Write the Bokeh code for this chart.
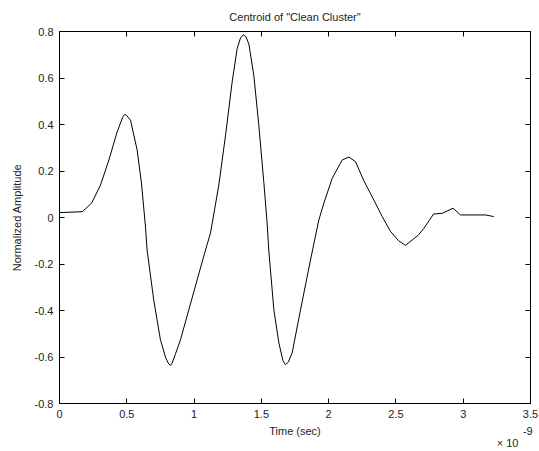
from bokeh.plotting import figure
from bokeh.models import LinearAxis, FixedTicker, Range1d
from bokeh.embed import file_html
from bokeh.resources import INLINE

# time in units of 1e-9 s
time_ns = [0.00, 0.17, 0.24, 0.305, 0.367, 0.428, 0.47, 0.485, 0.50, 0.528, 0.577, 0.609,
           0.639, 0.651, 0.70, 0.75, 0.79, 0.812, 0.825, 0.837, 0.86, 0.899, 0.961, 1.023, 1.085,
           1.122, 1.135, 1.184, 1.234, 1.283, 1.32, 1.345, 1.365, 1.385, 1.407, 1.444, 1.481,
           1.518, 1.543, 1.555, 1.593, 1.63, 1.66, 1.679, 1.70, 1.729, 1.791, 1.865, 1.927,
           1.964, 2.026, 2.1, 2.15, 2.2, 2.26, 2.336, 2.398, 2.46, 2.52,
           2.571, 2.62, 2.668, 2.707, 2.78, 2.844, 2.925, 2.98, 3.165, 3.227]
amplitude = [0.021, 0.025, 0.063, 0.14, 0.247, 0.368, 0.432, 0.444, 0.438, 0.418, 0.29, 0.148,
             -0.04, -0.14, -0.354, -0.526, -0.605, -0.630, -0.636, -0.626, -0.590, -0.526, -0.397, -0.268, -0.14,
             -0.067, -0.024, 0.14, 0.354, 0.583, 0.726, 0.772, 0.786, 0.778, 0.747, 0.611, 0.397,
             0.154, -0.025, -0.14, -0.397, -0.539, -0.615, -0.633, -0.622, -0.582, -0.397, -0.183, -0.011,
             0.061, 0.168, 0.247, 0.26, 0.24, 0.16, 0.075, 0.004, -0.06, -0.10,
             -0.12, -0.097, -0.075, -0.047, 0.015, 0.018, 0.04, 0.011, 0.011, 0.004]

x_ticks = [0, 0.5, 1, 1.5, 2, 2.5, 3, 3.5]
y_ticks = [-0.8, -0.6, -0.4, -0.2, 0, 0.2, 0.4, 0.6, 0.8]
x_tick_labels = {0: "0", 0.5: "0.5", 1: "1", 1.5: "1.5", 2: "2", 2.5: "2.5", 3: "3", 3.5: "3.5"}
y_tick_labels = {-0.8: "-0.8", -0.6: "-0.6", -0.4: "-0.4", -0.2: "-0.2", 0: "0",
                 0.2: "0.2", 0.4: "0.4", 0.6: "0.6", 0.8: "0.8"}
x_title = "Time (sec)"
y_title = "Normalized Amplitude"
exponent_base = "\u00d7 10"
exponent_power = "-9"

FONT = "Liberation Sans"
TXT = "#222222"

p = figure(width=539, height=451, output_backend="svg", toolbar_location=None,
           x_range=Range1d(0, 3.5), y_range=Range1d(-0.8, 0.8),
           min_border_left=59, min_border_right=9, min_border_top=31, min_border_bottom=47,
           title='Centroid of "Clean Cluster"')
p.title.align = "center"
p.title.text_font = FONT
p.title.text_font_size = "11px"
p.title.text_font_style = "normal"
p.title.text_color = TXT
p.title.standoff = 17

p.grid.visible = False
p.outline_line_color = "#000000"
p.background_fill_color = "white"
p.border_fill_color = "white"

p.line(time_ns, amplitude, line_color="#000000", line_width=1)

for ax in (p.xaxis[0], p.yaxis[0]):
    ax.major_tick_in = 5
    ax.major_tick_out = 0
    ax.minor_tick_line_color = None
    ax.axis_line_color = "#000000"
    ax.major_tick_line_color = "#000000"
    ax.major_label_text_font = FONT
    ax.major_label_text_font_size = "11px"
    ax.major_label_text_color = TXT
    ax.axis_label_text_font = FONT
    ax.axis_label_text_font_size = "11px"
    ax.axis_label_text_font_style = "normal"
    ax.axis_label_text_color = TXT

p.xaxis[0].ticker = FixedTicker(ticks=x_ticks)
p.xaxis[0].major_label_overrides = x_tick_labels
p.xaxis[0].major_label_standoff = 6

p.yaxis[0].ticker = FixedTicker(ticks=y_ticks)
p.yaxis[0].major_label_overrides = y_tick_labels
p.yaxis[0].axis_label = y_title
p.yaxis[0].major_label_standoff = 6
p.yaxis[0].axis_label_standoff = 9

# box ticks on the right and top
for loc, ticks in (("right", y_ticks), ("above", x_ticks)):
    ax = LinearAxis(ticker=FixedTicker(ticks=ticks), major_tick_in=5, major_tick_out=0,
                    minor_tick_line_color=None, major_label_text_font_size="0px",
                    major_label_text_color=None, axis_line_color="#000000",
                    major_tick_line_color="#000000", major_label_standoff=0)
    p.add_layout(ax, loc)

# text rows under the x tick labels: x title + exponent power, then exponent base
x_mid = (x_ticks[0] + x_ticks[-1]) / 2
row_b = {x_mid: x_title, 3.48: exponent_power}
row_c = {3.33: exponent_base}
for row, standoff in ((row_b, 4), (row_c, -3)):
    ax = LinearAxis(ticker=FixedTicker(ticks=list(row.keys())), major_label_overrides=row,
                    major_tick_in=0, major_tick_out=0, minor_tick_line_color=None,
                    axis_line_color=None, major_tick_line_color=None,
                    major_label_standoff=standoff, major_label_text_font=FONT,
                    major_label_text_font_size="11px", major_label_text_color=TXT)
    p.add_layout(ax, "below")

open("out.html", "w").write(file_html(p, INLINE))
